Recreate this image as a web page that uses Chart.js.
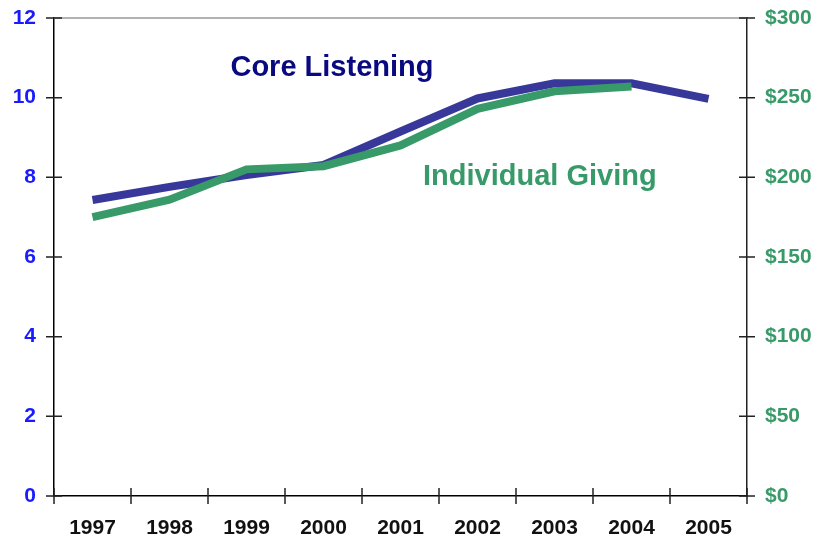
<!DOCTYPE html>
<html>
<head>
<meta charset="utf-8">
<script src="https://cdn.jsdelivr.net/npm/chart.js@4/dist/chart.umd.min.js"></script>
<style>
  html, body { margin: 0; padding: 0; background: #fff; }
  #wrap { width: 819px; height: 537px; }
</style>
</head>
<body>
<div id="wrap"><canvas id="trendChart"></canvas></div>
<script>
// Years along the bottom
const years = ['1997', '1998', '1999', '2000', '2001', '2002', '2003', '2004', '2005'];
// Core listening (left axis)
const coreListening = [7.43, 7.76, 8.06, 8.31, 9.15, 9.98, 10.36, 10.36, 9.97];
// Individual giving in dollars (right axis), no 2005 figure
const individualGiving = [175, 186, 205, 207, 220, 243, 254, 257, null];
// Axis ticks
const leftTicks = [0, 2, 4, 6, 8, 10, 12];
const rightTicks = [0, 50, 100, 150, 200, 250, 300];

const BLUE = '#38389a';
const GREEN = '#379a68';
const FONT = "'Liberation Sans', Arial, sans-serif";

// Tick marks that cross the axis line, plus the thin line along the top
const axisMarks = {
    id: 'axisMarks',
    afterDraw(chart) {
        const ctx = chart.ctx;
        const area = chart.chartArea;
        const x = chart.scales.x;
        const yL = chart.scales.y;
        const yR = chart.scales.y1;
        const len = 8;
        ctx.save();
        ctx.strokeStyle = '#999';
        ctx.lineWidth = 1.5;
        ctx.beginPath();
        ctx.moveTo(area.left, area.top);
        ctx.lineTo(area.right, area.top);
        ctx.stroke();

        ctx.strokeStyle = '#222';
        ctx.lineWidth = 1.5;
        ctx.beginPath();
        leftTicks.forEach(v => {
            const py = yL.getPixelForValue(v);
            ctx.moveTo(area.left - len, py);
            ctx.lineTo(area.left + len, py);
        });
        rightTicks.forEach(v => {
            const py = yR.getPixelForValue(v);
            ctx.moveTo(area.right - len, py);
            ctx.lineTo(area.right + len, py);
        });
        for (let i = 0; i <= years.length; i++) {
            const px = x.getPixelForValue(i - 0.5);
            ctx.moveTo(px, area.bottom - len);
            ctx.lineTo(px, area.bottom + len);
        }
        ctx.stroke();

        // series names, placed in data units
        ctx.font = 'bold 29px ' + FONT;
        ctx.textAlign = 'center';
        ctx.textBaseline = 'middle';
        ctx.fillStyle = '#0a0a80';
        ctx.fillText('Core Listening', x.getPixelForValue(3.11), yL.getPixelForValue(10.75));
        ctx.fillStyle = GREEN;
        ctx.fillText('Individual Giving', x.getPixelForValue(5.81), yR.getPixelForValue(200));
        ctx.restore();
    }
};

const ctx = document.getElementById('trendChart').getContext('2d');
const trendChart = new Chart(ctx, {
    type: 'line',
    data: {
        labels: years,
        datasets: [
            {
                label: 'Core Listening',
                data: coreListening,
                yAxisID: 'y',
                borderColor: BLUE,
                borderWidth: 8,
                borderCapStyle: 'butt',
                borderJoinStyle: 'miter',
                pointRadius: 0,
                tension: 0,
                order: 1
            },
            {
                label: 'Individual Giving',
                data: individualGiving,
                yAxisID: 'y1',
                borderColor: GREEN,
                borderWidth: 8,
                borderCapStyle: 'butt',
                borderJoinStyle: 'miter',
                pointRadius: 0,
                tension: 0,
                order: 0
            }
        ]
    },
    options: {
        responsive: true,
        maintainAspectRatio: false,
        animation: false,
        layout: { padding: { top: 18, left: 0, right: 0, bottom: 0 } },
        plugins: {
            legend: { display: false },
            tooltip: { enabled: false }
        },
        scales: {
            x: {
                offset: true,
                grid: { display: true, offset: true, drawOnChartArea: false, drawTicks: false, color: 'transparent' },
                border: { display: true, color: '#000', width: 1.5 },
                ticks: {
                    color: '#111',
                    font: { family: FONT, size: 21, weight: 'bold' },
                    padding: 20,
                    maxRotation: 0
                },
                afterFit: s => { s.height = 41; s.paddingLeft = 0; s.paddingRight = 0; }
            },
            y: {
                position: 'left',
                min: 0,
                max: 12,
                afterBuildTicks: s => { s.ticks = leftTicks.map(v => ({ value: v })); },
                grid: { drawOnChartArea: false, drawTicks: false },
                border: { display: true, color: '#000', width: 1.5 },
                ticks: {
                    color: '#1a1aff',
                    font: { family: FONT, size: 21, weight: 'bold' },
                    padding: 18
                },
                afterFit: s => { s.width = 54; s.paddingTop = 0; s.paddingBottom = 0; }
            },
            y1: {
                position: 'right',
                min: 0,
                max: 300,
                afterBuildTicks: s => { s.ticks = rightTicks.map(v => ({ value: v })); },
                grid: { drawOnChartArea: false, drawTicks: false },
                border: { display: true, color: '#222', width: 1.5 },
                ticks: {
                    color: GREEN,
                    font: { family: FONT, size: 21, weight: 'bold' },
                    padding: 18,
                    callback: v => '$' + v
                },
                afterFit: s => { s.width = 72; s.paddingTop = 0; s.paddingBottom = 0; }
            }
        }
    },
    plugins: [axisMarks]
});
</script>
</body>
</html>
